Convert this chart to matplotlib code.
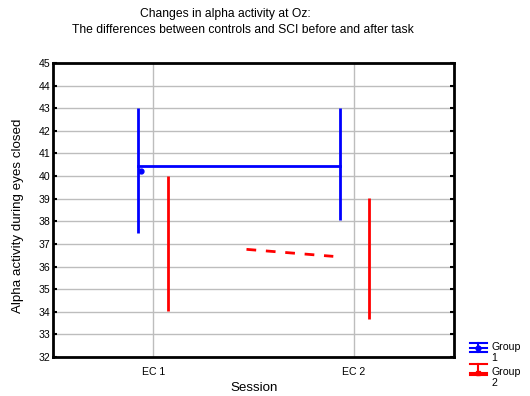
import matplotlib.pyplot as plt
from matplotlib.lines import Line2D

plt.rcParams['font.family'] = ['Liberation Sans', 'DejaVu Sans']

sessions = ['EC 1', 'EC 2']
yticks = list(range(32, 46))
groups = ['Group\n1', 'Group\n2']
colors = ['#0000ff', '#ff0000']

# group 1 (blue): whisker ranges at each session, offset to the left
g1_x = [0.923, 1.93]
g1_low = [37.48, 38.05]
g1_high = [43.0, 43.0]
g1_line = [40.44, 40.44]
g1_point_x = 0.94
g1_point = 40.22

# group 2 (red): whisker ranges, offset to the right
g2_x = [1.073, 2.078]
g2_low = [34.04, 33.66]
g2_high = [40.0, 39.01]
g2_line_x = [1.465, 1.898]
g2_line = [36.76, 36.45]

W, H = 530, 396


def px(x, y):
    return x / W, 1 - y / H


fig = plt.figure(figsize=(5.3, 3.96), dpi=100)
ax = fig.add_axes([53 / W, 1 - 357 / H, 401 / W, 294 / H])

ax.vlines(g1_x, g1_low, g1_high, color=colors[0], lw=2, zorder=3)
ax.plot(g1_x, g1_line, color=colors[0], lw=2, zorder=3)
ax.plot([g1_point_x], [g1_point], 'o', color=colors[0], ms=3.5, zorder=4)

ax.vlines(g2_x, g2_low, g2_high, color=colors[1], lw=2, zorder=3)
ax.plot(g2_line_x, g2_line, color=colors[1], lw=2, ls=(0, (3.5, 3.5)), zorder=3)

ax.set_xlim(0.5, 2.5)
ax.set_ylim(32, 45)
ax.set_xticks([1, 2])
ax.set_xticklabels(sessions, fontsize=7.6)
ax.set_yticks(yticks)
ax.set_yticklabels([str(t) for t in yticks], fontsize=7.6)
ax.tick_params(axis='x', length=0, pad=7)
ax.tick_params(axis='y', direction='in', length=3, width=1.5, pad=2, right=True)
ax.grid(True, color='#bdbdbd', lw=1)
ax.set_axisbelow(True)
for s in ax.spines.values():
    s.set_linewidth(2)

fig.text(*px(254, 388), 'Session', ha='center', va='center', fontsize=9.6)
fig.text(*px(18, 216), 'Alpha activity during eyes closed', ha='center', va='center',
         rotation=90, fontsize=9.6)

fig.text(*px(225, 14), 'Changes in alpha activity at Oz:', ha='center', va='center', fontsize=8.7)
fig.text(*px(243, 30), 'The differences between controls and SCI before and after task',
         ha='center', va='center', fontsize=8.7)

# legend drawn by hand: errorbar-like icons with wrapped labels
for i, (lab, c) in enumerate(zip(groups, colors)):
    yc = 348 + 25 * i
    bars = [yc - 5, yc, yc + 4] if i == 0 else [yc - 9, yc, yc + 2]
    for yb in bars:
        fig.add_artist(Line2D([470 / W, 487 / W], [1 - yb / H] * 2, color=c, lw=1.5,
                              transform=fig.transFigure))
    fig.add_artist(Line2D([478 / W, 478 / W], [1 - bars[0] / H, 1 - bars[-1] / H], color=c, lw=1.5,
                          transform=fig.transFigure))
    fig.add_artist(Line2D([478 / W], [1 - yc / H], marker='o' if i == 0 else 's', ms=3.5, color=c,
                          lw=0, transform=fig.transFigure))
    fig.text(*px(491, yc - 6), lab, ha='left', va='top', fontsize=7.6, linespacing=1.1)

fig.savefig('out.png', dpi=100)
